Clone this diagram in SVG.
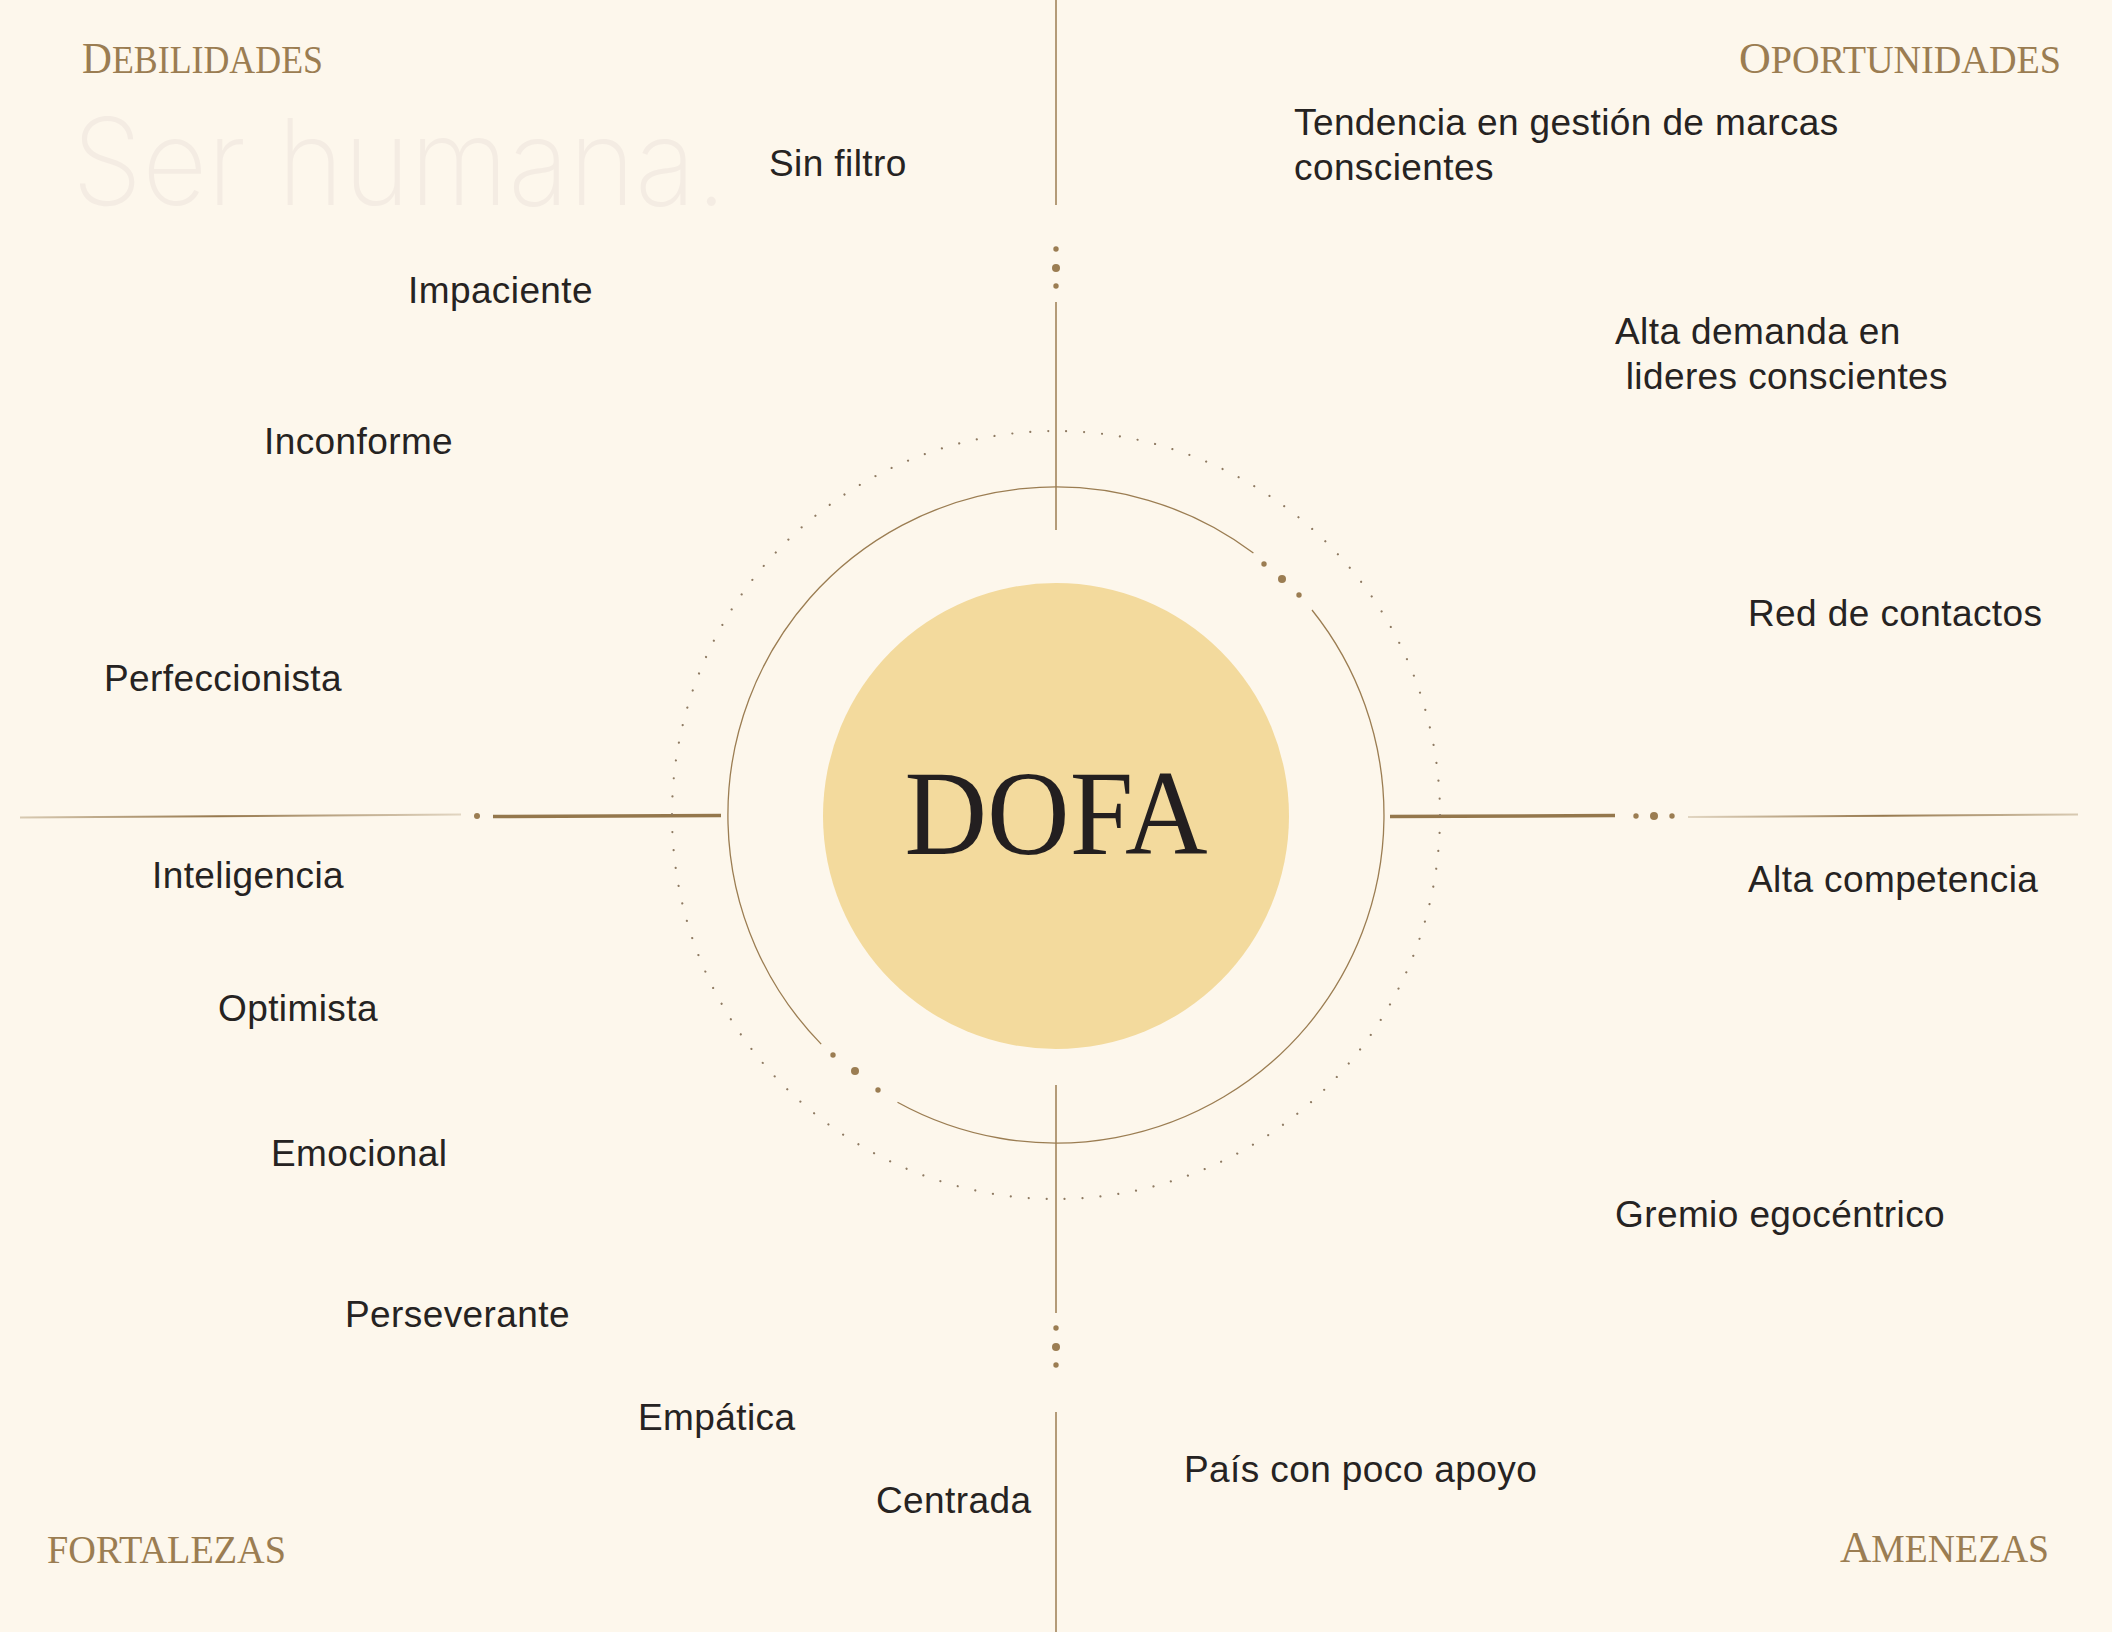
<svg xmlns="http://www.w3.org/2000/svg" width="2112" height="1632" viewBox="0 0 2112 1632">
<defs>
<style>
.item{font-family:"Liberation Sans",Arial,sans-serif;font-size:37px;letter-spacing:0.4px;fill:#262322}
.head{font-family:"Liberation Serif","Times New Roman",serif;fill:#9B7D52}
.dot{fill:#9B7D52}
.vline{stroke:#9B7D52;stroke-width:1.5;fill:none}
.thick{stroke:#94774C;stroke-width:3.5;fill:none}
.ring{stroke:#9B7D52;stroke-width:1.3;fill:none}
</style>
<linearGradient id="gL" gradientUnits="userSpaceOnUse" x1="20" y1="0" x2="461" y2="0">
<stop offset="0" stop-color="#D8CAB2"/><stop offset="0.45" stop-color="#96784D"/><stop offset="1" stop-color="#E2D6C2"/>
</linearGradient>
<linearGradient id="gR" gradientUnits="userSpaceOnUse" x1="1688" y1="0" x2="2078" y2="0">
<stop offset="0" stop-color="#E2D6C2"/><stop offset="0.5" stop-color="#96784D"/><stop offset="1" stop-color="#D8CAB2"/>
</linearGradient>
</defs>
<rect width="2112" height="1632" fill="#FDF7EC"/>
<text id="watermark" x="72" y="205" font-family="Inter,'Open Sans','Liberation Sans',sans-serif" font-weight="200" font-size="120" fill="#F4ECE3" textLength="655" lengthAdjust="spacingAndGlyphs">Ser humana.</text>

<g id="connectors">
<line class="vline" x1="1056" y1="0" x2="1056" y2="205"/>
<line class="vline" x1="1056" y1="302" x2="1056" y2="530"/>
<line class="vline" x1="1056" y1="1085" x2="1056" y2="1313"/>
<line class="vline" x1="1056" y1="1412" x2="1056" y2="1632"/>
<circle class="dot" cx="1056" cy="249" r="2.7"/>
<circle class="dot" cx="1056" cy="268" r="4"/>
<circle class="dot" cx="1056" cy="286" r="2.7"/>
<circle class="dot" cx="1056" cy="1328" r="2.7"/>
<circle class="dot" cx="1056" cy="1347" r="4"/>
<circle class="dot" cx="1056" cy="1365" r="2.7"/>
<line x1="20" y1="817.5" x2="461" y2="814.5" stroke="url(#gL)" stroke-width="2"/>
<circle class="dot" cx="477" cy="816" r="3"/>
<line class="thick" x1="493" y1="816.5" x2="721" y2="815.5"/>
<line class="thick" x1="1390" y1="816.5" x2="1615" y2="815.5"/>
<circle class="dot" cx="1636" cy="816" r="2.7"/>
<circle class="dot" cx="1654" cy="816" r="4"/>
<circle class="dot" cx="1672" cy="816" r="2.7"/>
<line x1="1688" y1="817" x2="2078" y2="814.5" stroke="url(#gR)" stroke-width="2"/>
</g>

<g id="dofa">
<circle cx="1056" cy="815" r="384" fill="none" stroke="#8E7A62" stroke-width="2.2" stroke-linecap="round" stroke-dasharray="0.01 18.0"/>
<path class="ring" d="M1312 610 A328 328 0 0 1 897.5 1102.2"/>
<path class="ring" d="M821.2 1044.1 A328 328 0 0 1 1253.4 553.1"/>
<circle class="dot" cx="1264" cy="564" r="2.7"/>
<circle class="dot" cx="1282" cy="579" r="4"/>
<circle class="dot" cx="1299" cy="595" r="2.7"/>
<circle class="dot" cx="833" cy="1055" r="2.7"/>
<circle class="dot" cx="855" cy="1071" r="4"/>
<circle class="dot" cx="878" cy="1090" r="2.7"/>
<circle cx="1056" cy="816" r="233" fill="#F3DA9D"/>
<text x="1056" y="854" text-anchor="middle" font-family="'Liberation Serif','Times New Roman',serif" font-size="120" fill="#231F20" textLength="303" lengthAdjust="spacingAndGlyphs">DOFA</text>
</g>

<g id="debilidades">
<text class="head" x="82" y="73" textLength="241" lengthAdjust="spacingAndGlyphs"><tspan font-size="45">D</tspan><tspan font-size="39">EBILIDADES</tspan></text>
<text class="item" x="769" y="176">Sin filtro</text>
<text class="item" x="408" y="303">Impaciente</text>
<text class="item" x="264" y="454">Inconforme</text>
<text class="item" x="104" y="691">Perfeccionista</text>
</g>

<g id="oportunidades">
<text class="head" x="1739" y="73" textLength="322" lengthAdjust="spacingAndGlyphs"><tspan font-size="45">O</tspan><tspan font-size="39">PORTUNIDADES</tspan></text>
<text class="item" x="1294" y="135">Tendencia en gestión de marcas</text>
<text class="item" x="1294" y="180">conscientes</text>
<text class="item" x="1615" y="344">Alta demanda en</text>
<text class="item" x="1615" y="389" xml:space="preserve"> lideres conscientes</text>
<text class="item" x="1748" y="626">Red de contactos</text>
</g>

<g id="fortalezas">
<text class="head" x="47" y="1563" font-size="39" textLength="239" lengthAdjust="spacingAndGlyphs">FORTALEZAS</text>
<text class="item" x="152" y="888">Inteligencia</text>
<text class="item" x="218" y="1021">Optimista</text>
<text class="item" x="271" y="1166">Emocional</text>
<text class="item" x="345" y="1327">Perseverante</text>
<text class="item" x="638" y="1430">Empática</text>
<text class="item" x="876" y="1513">Centrada</text>
</g>

<g id="amenazas">
<text class="head" x="1840" y="1562" textLength="209" lengthAdjust="spacingAndGlyphs"><tspan font-size="45">A</tspan><tspan font-size="39">MENEZAS</tspan></text>
<text class="item" x="1748" y="892">Alta competencia</text>
<text class="item" x="1615" y="1227">Gremio egocéntrico</text>
<text class="item" x="1184" y="1482">País con poco apoyo</text>
</g>
</svg>
